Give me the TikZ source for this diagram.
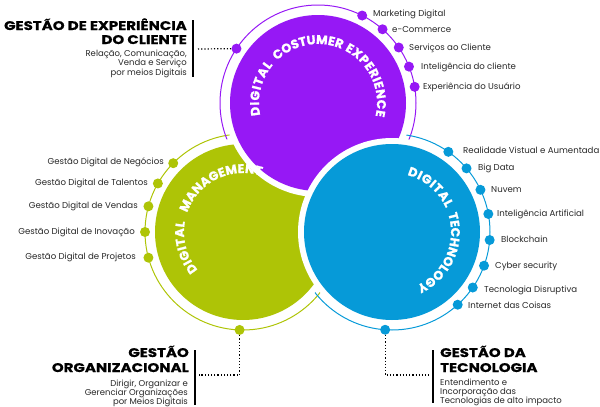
\documentclass[tikz,border=0pt]{standalone}
\usepackage{fontspec}
\setmainfont{Poppins}
\newfontfamily\headfont[FakeStretch=1.2, FakeBold=0.6]{Poppins}
\newfontfamily\arcfamily[FakeBold=1.2]{Poppins}
\usetikzlibrary{decorations.text}
\definecolor{purp}{RGB}{150,24,245}
\definecolor{lime}{RGB}{174,196,6}
\definecolor{sky}{RGB}{6,154,216}
\definecolor{ink}{RGB}{40,40,40}
\newcommand\arcfont{\arcfamily\fontsize{12.5}{12.5}\selectfont\bfseries}

\begin{document}
\begin{tikzpicture}[x=1pt,y=1pt,
  dot/.style={circle, inner sep=0pt, minimum size=10pt},
  lbl/.style={inner sep=0pt, text=ink, font=\fontsize{8.6}{8.6}\selectfont, text height=6pt, text depth=2pt},
  ttl/.style={inner sep=0pt, font=\headfont\fontsize{12.5}{12.5}\selectfont\bfseries},
  sub/.style={inner sep=0pt, text=ink, font=\fontsize{8.5}{8.5}\selectfont},
  bar/.style={line width=1.6pt},
  lead/.style={dotted, line width=1.2pt},
  arctext/.style={decorate, decoration={text along path, text align={fit to path}, text color=white}},
]
\useasboundingbox (0,0) rectangle (600,-407);
\coordinate (P) at (318,-103);
\coordinate (G) at (243,-232);
\coordinate (B) at (392,-232);

% thin outer rings
\draw[lime, line width=1pt] (G) circle[radius=98pt];
\draw[purp, line width=1pt] (P) circle[radius=98pt];
\draw[sky, line width=1pt] (B) circle[radius=98pt];

% filled discs with white rims, stacked green, purple, blue
\fill[white] (G) circle[radius=94pt];
\fill[lime] (G) circle[radius=88pt];
\fill[white] (P) circle[radius=94pt];
\fill[purp] (P) circle[radius=88pt];
\fill[white] (B) circle[radius=94pt];
\fill[sky] (B) circle[radius=88pt];

% curved titles
\path[arctext, decoration={text={|\arcfont|DIGITAL}}]
  ([shift={(192:59pt)}]P) arc[start angle=192, end angle=140, radius=59pt];
\path[arctext, decoration={text={|\arcfont|COSTUMER}}]
  ([shift={(134:59pt)}]P) arc[start angle=134, end angle=67.5, radius=59pt];
\path[arctext, decoration={text={|\arcfont|EXPERIENCE}}]
  ([shift={(63:59pt)}]P) arc[start angle=63, end angle=-13, radius=59pt];

\path[arctext, decoration={text={|\arcfont|DIGITAL}}]
  ([shift={(220:59pt)}]G) arc[start angle=220, end angle=170, radius=59pt];
\path[arctext, decoration={text={|\arcfont|MANAGEMENT}}]
  ([shift={(161:59pt)}]G) arc[start angle=161, end angle=72, radius=59pt];

\path[arctext, decoration={text={|\arcfont|DIGITAL}}]
  ([shift={(75:59pt)}]B) arc[start angle=75, end angle=24, radius=59pt];
\path[arctext, decoration={text={|\arcfont|TECHNOLOGY}}]
  ([shift={(18:59pt)}]B) arc[start angle=18, end angle=-65, radius=59pt];

% dots on the purple ring
\node[dot, fill=purp] (pl) at ([shift={(146.3:98pt)}]P) {};
\node[dot, fill=purp] (p1) at ([shift={(63.2:98pt)}]P) {};
\node[dot, fill=purp] (p2) at ([shift={(48.8:98pt)}]P) {};
\node[dot, fill=purp] (p3) at ([shift={(34.5:98pt)}]P) {};
\node[dot, fill=purp] (p4) at ([shift={(21.8:98pt)}]P) {};
\node[dot, fill=purp] (p5) at ([shift={(9.5:98pt)}]P) {};

% dots on the green ring
\node[dot, fill=lime] (g1) at ([shift={(135.4:98pt)}]G) {};
\node[dot, fill=lime] (g2) at ([shift={(150.3:98pt)}]G) {};
\node[dot, fill=lime] (g3) at ([shift={(164.8:98pt)}]G) {};
\node[dot, fill=lime] (g4) at ([shift={(180:98pt)}]G) {};
\node[dot, fill=lime] (g5) at ([shift={(195.2:98pt)}]G) {};
\node[dot, fill=lime] (gb) at ([shift={(268:98pt)}]G) {};

% dots on the blue ring
\node[dot, fill=sky] (b1) at ([shift={(54.9:98pt)}]B) {};
\node[dot, fill=sky] (b2) at ([shift={(40.5:98pt)}]B) {};
\node[dot, fill=sky] (b3) at ([shift={(25.5:98pt)}]B) {};
\node[dot, fill=sky] (b4) at ([shift={(10.6:98pt)}]B) {};
\node[dot, fill=sky] (b5) at ([shift={(-4.7:98pt)}]B) {};
\node[dot, fill=sky] (b6) at ([shift={(-20.1:98pt)}]B) {};
\node[dot, fill=sky] (b7) at ([shift={(-34.5:98pt)}]B) {};
\node[dot, fill=sky] (b8) at ([shift={(-47.9:98pt)}]B) {};
\node[dot, fill=sky] (bb) at ([shift={(-94:98pt)}]B) {};

% item labels
\node[lbl, anchor=west] (lp1) at (373,-14) {Marketing Digital};
\node[lbl, anchor=west] (lp2) at (392,-30) {e-Commerce};
\node[lbl, anchor=west] (lp3) at (409,-48) {Serviços ao Cliente};
\node[lbl, anchor=west] (lp4) at (421,-67) {Inteligência do cliente};
\node[lbl, anchor=west] (lp5) at (423,-87) {Experiência do Usuário};

\node[lbl, anchor=east] (lg1) at (164,-162) {Gestão Digital de Negócios};
\node[lbl, anchor=east] (lg2) at (148,-183) {Gestão Digital de Talentos};
\node[lbl, anchor=east] (lg3) at (138,-206) {Gestão Digital de Vendas};
\node[lbl, anchor=east] (lg4) at (135,-232) {Gestão Digital de Inovação};
\node[lbl, anchor=east] (lg5) at (136,-257) {Gestão Digital de Projetos};

\node[lbl, anchor=west] (lb1) at (463,-151) {Realidade Vistual e Aumentada};
\node[lbl, anchor=west] (lb2) at (478,-168) {Big Data};
\node[lbl, anchor=west] (lb3) at (491,-190) {Nuvem};
\node[lbl, anchor=west] (lb4) at (497,-214) {Inteligência Artificial};
\node[lbl, anchor=west] (lb5) at (501,-240) {Blockchain};
\node[lbl, anchor=west] (lb6) at (495,-266) {Cyber security};
\node[lbl, anchor=west] (lb7) at (484,-290) {Tecnologia Disruptiva};
\node[lbl, anchor=west] (lb8) at (468,-306) {Internet das Coisas};

% customer experience block
\node[ttl, anchor=base east] (cx1) at (187,-30) {GESTÃO DE EXPERIÊNCIA};
\node[ttl, anchor=base east] (cx2) at (187,-44) {DO CLIENTE};
\node[sub, anchor=base east] (cx3) at (187,-56) {Relação, Comunicação,};
\node[sub, anchor=base east] (cx4) at (187,-65.5) {Venda e Serviço};
\node[sub, anchor=base east] (cx5) at (187,-75) {por meios Digitais};
\draw[bar] (193,-20) -- (193,-77);
\coordinate (cxend) at (198,-49);
\draw[lead] (cxend) -- (pl);

% organisational block
\node[ttl, anchor=base east] (og1) at (189,-357) {GESTÃO};
\node[ttl, anchor=base east] (og2) at (189,-372) {ORGANIZACIONAL};
\node[sub, anchor=base east] (og3) at (188,-386) {Dirigir, Organizar e};
\node[sub, anchor=base east] (og4) at (188,-395) {Gerenciar Organizações};
\node[sub, anchor=base east] (og5) at (188,-404) {por Meios Digitais};
\draw[bar] (195,-350) -- (195,-405);
\coordinate (ogend) at (199,-375);
\draw[lead] (gb) |- (ogend);

% technology block
\node[ttl, anchor=base west] (tc1) at (440,-357) {GESTÃO DA};
\node[ttl, anchor=base west] (tc2) at (440,-372) {TECNOLOGIA};
\node[sub, anchor=base west] (tc3) at (440,-385) {Entendimento e};
\node[sub, anchor=base west] (tc4) at (440,-394) {Incorporação das};
\node[sub, anchor=base west] (tc5) at (440,-403) {Tecnologias de alto impacto};
\draw[bar] (433,-350) -- (433,-403);
\coordinate (tcend) at (429,-375);
\draw[lead] (bb) |- (tcend);
\end{tikzpicture}
\end{document}
